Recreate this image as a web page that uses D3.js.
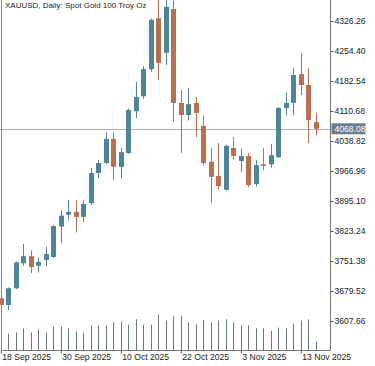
<!DOCTYPE html>
<html>
<head>
<meta charset="utf-8">
<script src="https://cdn.jsdelivr.net/npm/d3@7"></script>
<style>
  body { margin: 0; background: #fff; }
  svg { display: block; }
  text { font-family: "Liberation Sans", Arial, sans-serif; }
</style>
</head>
<body>
<script>
// daily bars, XAUUSD
var dates = ["2025-09-18","2025-09-19","2025-09-22","2025-09-23","2025-09-24","2025-09-25","2025-09-26","2025-09-29","2025-09-30",
  "2025-10-01","2025-10-02","2025-10-03","2025-10-06","2025-10-07","2025-10-08","2025-10-09","2025-10-10","2025-10-13","2025-10-14",
  "2025-10-15","2025-10-16","2025-10-17","2025-10-20","2025-10-21","2025-10-22","2025-10-23","2025-10-24","2025-10-27","2025-10-28",
  "2025-10-29","2025-10-30","2025-10-31","2025-11-03","2025-11-04","2025-11-05","2025-11-06","2025-11-07","2025-11-10","2025-11-11",
  "2025-11-12","2025-11-13","2025-11-14","2025-11-17"];
var opens  = [3662,3646,3686,3746,3763,3740,3754,3761,3834,3862,3869,3857,3890,3962,3986,4044,3977,4010,4110,4146,4211,4333,4250,4355,4130,4101,4130,4075,3989,3955,3922,4022,3991,4003,3936,3983,3983,4000,4118,4130,4199,4173,4084];
var highs  = [3680,3688,3750,3792,3777,3760,3785,3838,3873,3897,3897,3897,3974,3993,4060,4060,4022,4116,4180,4218,4332,4381,4381,4375,4161,4166,4144,4100,4022,4034,4030,4048,4020,4010,3993,4022,4032,4120,4154,4214,4250,4214,4106];
var lows   = [3630,3634,3684,3740,3722,3724,3739,3758,3794,3850,3820,3845,3885,3950,3984,3945,3950,4008,4094,4140,4205,4185,4221,4084,4010,4088,4048,3980,3890,3922,3920,3995,3965,3928,3930,3969,3975,3998,4101,4101,4149,4034,4053];
var closes = [3646,3686,3748,3763,3737,3749,3768,3835,3860,3869,3857,3888,3962,3986,4044,3977,4012,4113,4144,4211,4329,4226,4360,4130,4101,4127,4106,3986,3953,3931,4027,4003,4003,3933,3981,3979,4005,4118,4130,4197,4173,4089,4068.08];
var volumes = [25,28,30,37,30,35,30,40,40,37,32,30,42,42,42,47,48,43,52,43,43,60,50,57,58,47,43,50,47,50,52,47,42,42,37,37,33,38,37,45,50,52,15];

var priceTicks = [4326.26,4254.40,4182.54,4110.68,4038.82,3966.96,3895.10,3823.24,3751.38,3679.52,3607.66];
var dateTicks = ["2025-09-18","2025-09-30","2025-10-10","2025-10-22","2025-11-03","2025-11-13"];
var dateTickLabels = ["18 Sep 2025","30 Sep 2025","10 Oct 2025","22 Oct 2025","3 Nov 2025","13 Nov 2025"];
var lastPrice = 4068.08;
var title = "XAUUSD, Daily:  Spot Gold 100 Troy Oz";

var width = 375, height = 366;
var plotRight = 330.5, plotBottom = 350.5;
var upColor = "#4e8494", downColor = "#b87050";

var bars = dates.map(function(d, i) {
  return {date: d, o: opens[i], h: highs[i], l: lows[i], c: closes[i], v: volumes[i]};
});

var svg = d3.select("body").append("svg").attr("width", width).attr("height", height);

var x = d3.scalePoint().domain(dates).range([0.8, 315.8]);
var y = d3.scaleLinear().domain([3607.66, 4326.26]).range([321, 21]);
var yVol = d3.scaleLinear().domain([0, 100]).range([plotBottom, plotBottom - 60]);

var plot = svg.append("g");

// volumes
plot.selectAll("line.vol").data(bars).enter().append("line")
  .attr("class", "vol")
  .attr("x1", function(d){ return Math.round(x(d.date)) + 0.5; })
  .attr("x2", function(d){ return Math.round(x(d.date)) + 0.5; })
  .attr("y1", plotBottom)
  .attr("y2", function(d){ return yVol(d.v); })
  .attr("stroke", "#66777f")
  .attr("stroke-width", 1);

// current price line
plot.append("line")
  .attr("x1", 0).attr("x2", plotRight)
  .attr("y1", Math.round(y(lastPrice)) + 0.5).attr("y2", Math.round(y(lastPrice)) + 0.5)
  .attr("stroke", "#a6b3ba").attr("stroke-width", 1);

// wicks
plot.selectAll("line.wick").data(bars).enter().append("line")
  .attr("class", "wick")
  .attr("x1", function(d){ return Math.round(x(d.date)) + 0.5; })
  .attr("x2", function(d){ return Math.round(x(d.date)) + 0.5; })
  .attr("y1", function(d){ return y(d.h); })
  .attr("y2", function(d){ return y(d.l); })
  .attr("stroke", function(d){ return d.c >= d.o ? upColor : downColor; })
  .attr("stroke-width", 1);

// bodies
plot.selectAll("rect.body").data(bars).enter().append("rect")
  .attr("class", "body")
  .attr("x", function(d){ return Math.round(x(d.date)) - 2; })
  .attr("width", 5)
  .attr("y", function(d){ return y(Math.max(d.o, d.c)); })
  .attr("height", function(d){ return Math.max(1.5, Math.abs(y(d.o) - y(d.c))); })
  .attr("fill", function(d){ return d.c >= d.o ? upColor : downColor; });

// white out behind axis area
svg.append("rect").attr("x", plotRight).attr("y", 0).attr("width", width - plotRight).attr("height", height).attr("fill", "#fff");
svg.append("rect").attr("x", 0).attr("y", plotBottom).attr("width", width).attr("height", height - plotBottom).attr("fill", "#fff");

// frame
svg.append("line").attr("x1", 1.5).attr("x2", 1.5).attr("y1", 0).attr("y2", plotBottom).attr("stroke", "#888");
svg.append("line").attr("x1", plotRight).attr("x2", plotRight).attr("y1", 0).attr("y2", plotBottom).attr("stroke", "#777");
svg.append("line").attr("x1", 1.5).attr("x2", plotRight).attr("y1", plotBottom).attr("y2", plotBottom).attr("stroke", "#777");

// price axis
var yAxis = d3.axisRight(y).tickValues(priceTicks).tickSize(3).tickPadding(1).tickFormat(d3.format(".2f"));
var gy = svg.append("g").attr("transform", "translate(" + plotRight + ",0)").call(yAxis);
gy.select(".domain").remove();
gy.selectAll("line").attr("stroke", "#555");
gy.selectAll("text").attr("font-size", "8.6px").attr("fill", "#1a1a1a").attr("font-family", "Liberation Sans, Arial, sans-serif");

// last price tag
var tag = svg.append("g").attr("transform", "translate(" + (plotRight + 1) + "," + y(lastPrice) + ")");
tag.append("rect").attr("x", 0).attr("y", -5.5).attr("width", 34).attr("height", 11).attr("fill", "#6a7d90");
tag.append("text").attr("x", 3).attr("dy", "0.33em").attr("font-size", "8.6px").attr("fill", "#fff").text(d3.format(".2f")(lastPrice));

// time axis
var xAxis = d3.axisBottom(x).tickValues(dateTicks).tickSize(3).tickFormat(function(d){ return dateTickLabels[dateTicks.indexOf(d)]; });
var gx = svg.append("g").attr("transform", "translate(0," + plotBottom + ")").call(xAxis);
gx.select(".domain").remove();
gx.selectAll("line").attr("stroke", "#555");
gx.selectAll("text").attr("text-anchor", "start").attr("x", 1).attr("y", 3).attr("dy", "0.71em")
  .attr("font-size", "8.6px").attr("fill", "#1a1a1a").attr("font-family", "Liberation Sans, Arial, sans-serif");

// title at the top edge
svg.append("text").attr("x", 5).attr("y", 8).attr("font-size", "8px").attr("fill", "#1a1a1a").text(title);
</script>
</body>
</html>
